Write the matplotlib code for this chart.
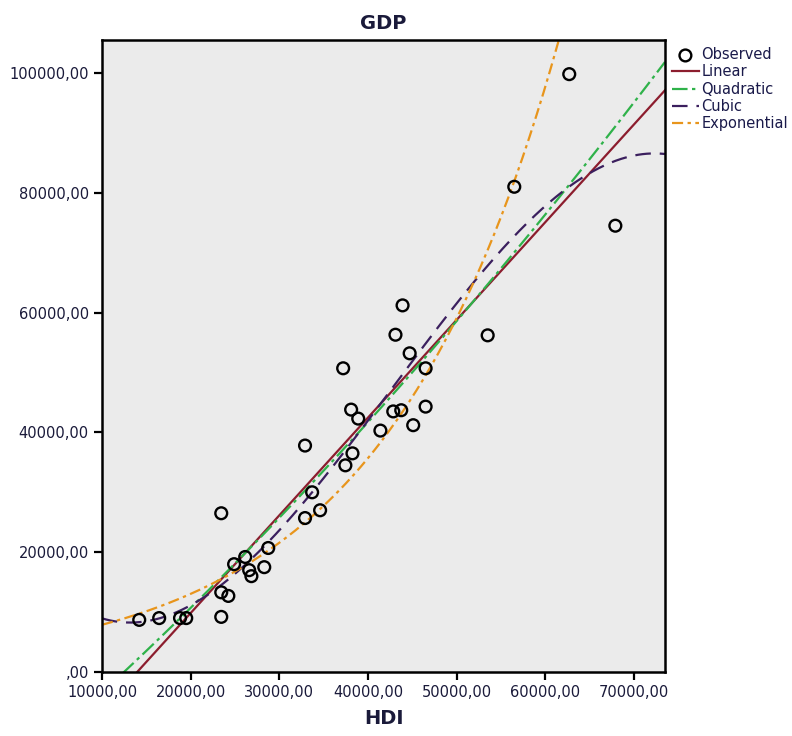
"""
GDP vs HDI 散点图 + 曲线拟合 (Linear / Quadratic / Cubic / Exponential)
"""
import numpy as np
import matplotlib
matplotlib.use('Agg')
import matplotlib.pyplot as plt
from matplotlib.ticker import FuncFormatter

# ===== 数据 =====
hdi = [62700, 56500, 67900, 43900, 53500, 43100, 37200, 44700, 46500, 38100,
       38900, 42850, 43750, 46500, 41400, 45100, 32900, 38250, 37450, 33700,
       34600, 32900, 23450, 26150, 24900, 26600, 26850, 28300, 28750, 23450,
       24250, 23450, 14200, 16450, 18800, 19500]
gdp = [99800, 81000, 74500, 61200, 56200, 56300, 50700, 53200, 50700, 43800,
       42300, 43500, 43700, 44300, 40300, 41200, 37800, 36500, 34500, 30000,
       27000, 25700, 26500, 19200, 18000, 17000, 16000, 17500, 20700, 13300,
       12700, 9200, 8700, 9000, 9000, 9000]

x_ticks = [10000, 20000, 30000, 40000, 50000, 60000, 70000]
y_ticks = [0, 20000, 40000, 60000, 80000, 100000]
x_min, x_max = 10000, 73500
y_min, y_max = 0, 105500

x = np.array(hdi, dtype=float)
y = np.array(gdp, dtype=float)
xs = np.linspace(x_min, x_max, 400)

# ===== 拟合 =====
lin = np.polyval(np.polyfit(x, y, 1), xs)
quad = np.polyval(np.polyfit(x, y, 2), xs)
cub = np.polyval(np.polyfit(x, y, 3), xs)
b, ln_a = np.polyfit(x, np.log(y), 1)
expo = np.exp(ln_a + b * xs)

# ===== 画图 =====
fig = plt.figure(figsize=(7.92, 7.36), dpi=100)
ax = fig.add_axes([102 / 792, 64 / 736, 563 / 792, 632 / 736])
ax.set_facecolor('#ebebeb')

ax.scatter(x, y, s=72, facecolors='none', edgecolors='black', linewidths=1.7,
           label='Observed', zorder=5)
ax.plot(xs, lin, color='#8c1d2e', lw=1.6, label='Linear')
ax.plot(xs, quad, color='#2fb24a', lw=1.6, dashes=(7, 2, 1.5, 2), label='Quadratic')
ax.plot(xs, cub, color='#3b1f5e', lw=1.6, dashes=(7, 4), label='Cubic')
ax.plot(xs, expo, color='#e8951c', lw=1.6, dashes=(5, 2, 1.5, 2), label='Exponential')

ax.set_xlim(x_min, x_max)
ax.set_ylim(y_min, y_max)
ax.set_xticks(x_ticks)
ax.set_yticks(y_ticks)

fmt = FuncFormatter(lambda v, p: ',00' if v == 0 else f'{int(v)},00')
ax.xaxis.set_major_formatter(fmt)
ax.yaxis.set_major_formatter(fmt)
ax.tick_params(direction='out', length=6, width=1.6, labelsize=10.5,
               colors='black', labelcolor='#1a1a3a')
for sp in ax.spines.values():
    sp.set_linewidth(1.8)

ax.set_title('GDP', fontsize=14, fontweight='bold', color='#1a1a3a', pad=8)
ax.set_xlabel('HDI', fontsize=14, fontweight='bold', color='#1a1a3a', labelpad=6)

leg = ax.legend(loc='upper left', bbox_to_anchor=(1.0, 1.0), frameon=False,
                fontsize=10.5, handlelength=1.8, handletextpad=0.2,
                labelspacing=0.15, borderaxespad=0.1)
for t in leg.get_texts():
    t.set_color('#1a1a4a')

plt.savefig('out.png', dpi=100)
